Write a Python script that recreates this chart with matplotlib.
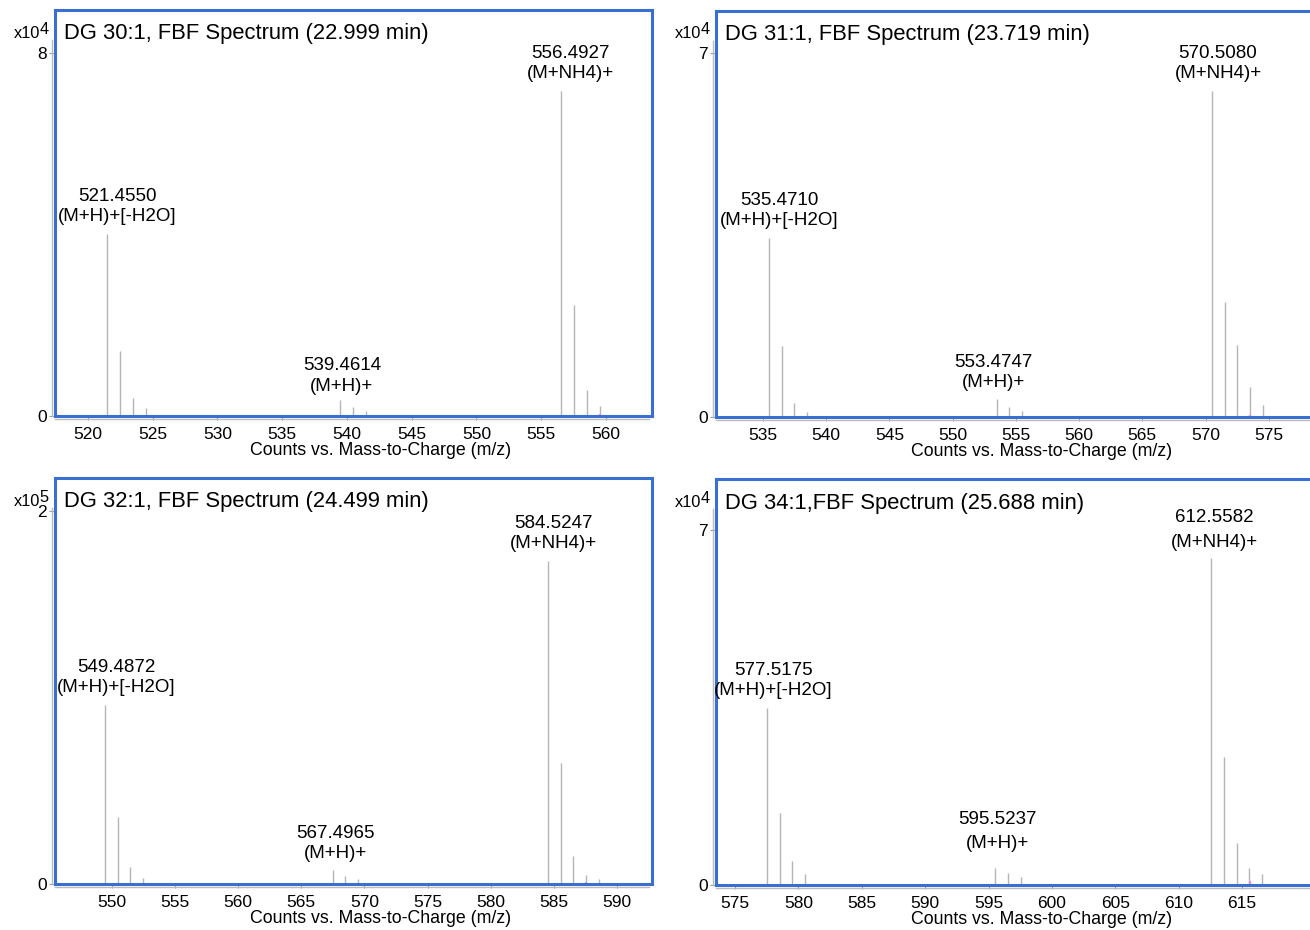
import matplotlib
matplotlib.use("Agg")
import matplotlib.pyplot as plt
import matplotlib.transforms as mtransforms
import numpy as np

plt.rcParams['font.family'] = ['Liberation Sans', 'DejaVu Sans']

# ---- data (intensities in units of the panel's x10^n scale) ----
titles = ["DG 30:1, FBF Spectrum (22.999 min)",
          "DG 31:1, FBF Spectrum (23.719 min)",
          "DG 32:1, FBF Spectrum (24.499 min)",
          "DG 34:1,FBF Spectrum (25.688 min)"]
exponents = ["4", "4", "5", "4"]
ytop_ticks = [8, 7, 2, 7]

mz_30 = [521.455, 522.458, 523.461, 524.464, 539.461, 540.465, 541.468,
         556.493, 557.496, 558.499, 559.502]
int_30 = [4.01, 1.44, 0.40, 0.18, 0.36, 0.20, 0.12, 7.16, 2.45, 0.57, 0.21]

mz_31 = [535.471, 536.474, 537.477, 538.480, 553.475, 554.478, 555.481,
         570.508, 571.511, 572.514, 573.517, 574.520]
int_31 = [3.44, 1.37, 0.27, 0.10, 0.35, 0.19, 0.12, 6.27, 2.22, 1.38, 0.58, 0.23]

mz_32 = [549.487, 550.490, 551.493, 552.496, 567.497, 568.500, 569.503,
         584.525, 585.528, 586.531, 587.534, 588.537]
int_32 = [0.96, 0.36, 0.093, 0.032, 0.075, 0.043, 0.025,
          1.73, 0.65, 0.15, 0.048, 0.025]

mz_34 = [577.518, 578.521, 579.524, 580.527, 595.524, 596.527, 597.530,
         612.558, 613.561, 614.564, 615.567, 616.570]
int_34 = [3.49, 1.42, 0.47, 0.21, 0.34, 0.23, 0.15, 6.45, 2.52, 0.82, 0.34, 0.21]

# small pink trace near the baseline, one point per panel
pink_mz = [559.55, 573.55, 587.55, 615.60]
pink_int = [0.05, 0.04, 0.012, 0.07]

# annotations: (m/z, height, text)
ann_30 = [(521.455, 4.01, "521.4550\n(M+H)+[-H2O]"),
          (539.461, 0.36, "539.4614\n(M+H)+"),
          (556.493, 7.16, "556.4927\n(M+NH4)+")]
ann_31 = [(535.471, 3.44, "535.4710\n(M+H)+[-H2O]"),
          (553.475, 0.35, "553.4747\n(M+H)+"),
          (570.508, 6.27, "570.5080\n(M+NH4)+")]
ann_32 = [(549.487, 0.96, "549.4872\n(M+H)+[-H2O]"),
          (567.497, 0.075, "567.4965\n(M+H)+"),
          (584.525, 1.73, "584.5247\n(M+NH4)+")]
ann_34 = [(577.518, 3.49, "577.5175\n(M+H)+[-H2O]"),
          (595.524, 0.34, "595.5237\n(M+H)+"),
          (612.558, 6.45, "612.5582\n(M+NH4)+")]

xlims = [(517.47, 563.55), (531.28, 578.5), (545.53, 592.76), (573.49, 620.6)]
ylims = [8.947, 7.81, 2.177, 8.0]
xticks = [np.arange(520, 561, 5), np.arange(535, 576, 5),
          np.arange(550, 591, 5), np.arange(575, 616, 5)]

# ---- layout in pixels: left, top, right, bottom ----
W, H = 1310, 930
boxes = [(55, 10, 652, 416), (716, 11, 1313, 417),
         (55, 478, 652, 884), (716, 479, 1313, 885)]
# per annotation: x shift px, y gap px, line spacing
ann_pos = [[(11, 9, 1.25), (2, 5, 1.25), (10, 9, 1.25)],
           [(10, 9, 1.25), (-3, 8, 1.25), (6, 9, 1.25)],
           [(11, 9, 1.25), (3, 8, 1.25), (6, 9, 1.25)],
           [(6, 9, 1.25), (2, 16, 1.55), (3, 7, 1.6)]]

BLUE = '#3a6fd2'
GREY = '#b5b5b5'


def plot_spectrum(ax, mz, inten, ann, pos, pink, xlim, ytop, ytick, xt):
    ax.vlines(mz, 0, inten, colors=GREY, lw=1.0)
    ax.vlines([pink[0]], 0, [pink[1]], colors='#e58fd6', lw=1.6)
    ax.set_xlim(*xlim)
    ax.set_ylim(0, ytop)
    ax.set_xticks(xt)
    ax.set_yticks([0, ytick])
    ax.tick_params(axis='x', length=3, color='#999999', labelsize=12.5, pad=5)
    ax.tick_params(axis='y', length=4, color='#999999', labelsize=12.5, pad=2)
    for s in ax.spines.values():
        s.set_color(BLUE)
        s.set_linewidth(2.2)
    ax.set_xlabel("Counts vs. Mass-to-Charge (m/z)", fontsize=12.8, labelpad=0)
    ax.xaxis.label.set_x(0.545)
    # grey axis lines just outside the blue frame
    off = mtransforms.ScaledTranslation(0, -3 / 100, ax.figure.dpi_scale_trans)
    ax.plot([0, 0.995], [0, 0], color='#bbbbbb', lw=1.0,
            transform=ax.transAxes + off, clip_on=False)
    offy = mtransforms.ScaledTranslation(-3 / 100, 0, ax.figure.dpi_scale_trans)
    ax.plot([0, 0], [0, 0.925], color='#bbbbbb', lw=1.0,
            transform=ax.transAxes + offy, clip_on=False)
    for (x, h, txt), (dx, dy, ls) in zip(ann, pos):
        ax.annotate(txt, xy=(x, h), xytext=(dx, dy), textcoords='offset pixels',
                    ha='center', va='bottom', fontsize=13.5, linespacing=ls)


fig = plt.figure(figsize=(W / 100, H / 100), dpi=100)
panels = [(mz_30, int_30, ann_30), (mz_31, int_31, ann_31),
          (mz_32, int_32, ann_32), (mz_34, int_34, ann_34)]

for k, (mz, inten, ann) in enumerate(panels):
    l, t, r, b = boxes[k]
    ax = fig.add_axes([l / W, 1 - b / H, (r - l) / W, (b - t) / H])
    plot_spectrum(ax, mz, inten, ann, ann_pos[k], (pink_mz[k], pink_int[k]),
                  xlims[k], ylims[k], ytop_ticks[k], xticks[k])
    ax.annotate(titles[k], xy=(0, 1), xycoords='axes fraction',
                xytext=(9, -24), textcoords='offset pixels',
                ha='left', va='center', fontsize=15.8)
    ax.annotate("x10", xy=(0, 1), xycoords='axes fraction',
                xytext=(-15, -23), textcoords='offset pixels',
                ha='right', va='center', fontsize=11.8)
    ax.annotate(exponents[k], xy=(0, 1), xycoords='axes fraction',
                xytext=(-11, -19), textcoords='offset pixels',
                ha='center', va='center', fontsize=11.8)

fig.savefig("out.png", dpi=100)
